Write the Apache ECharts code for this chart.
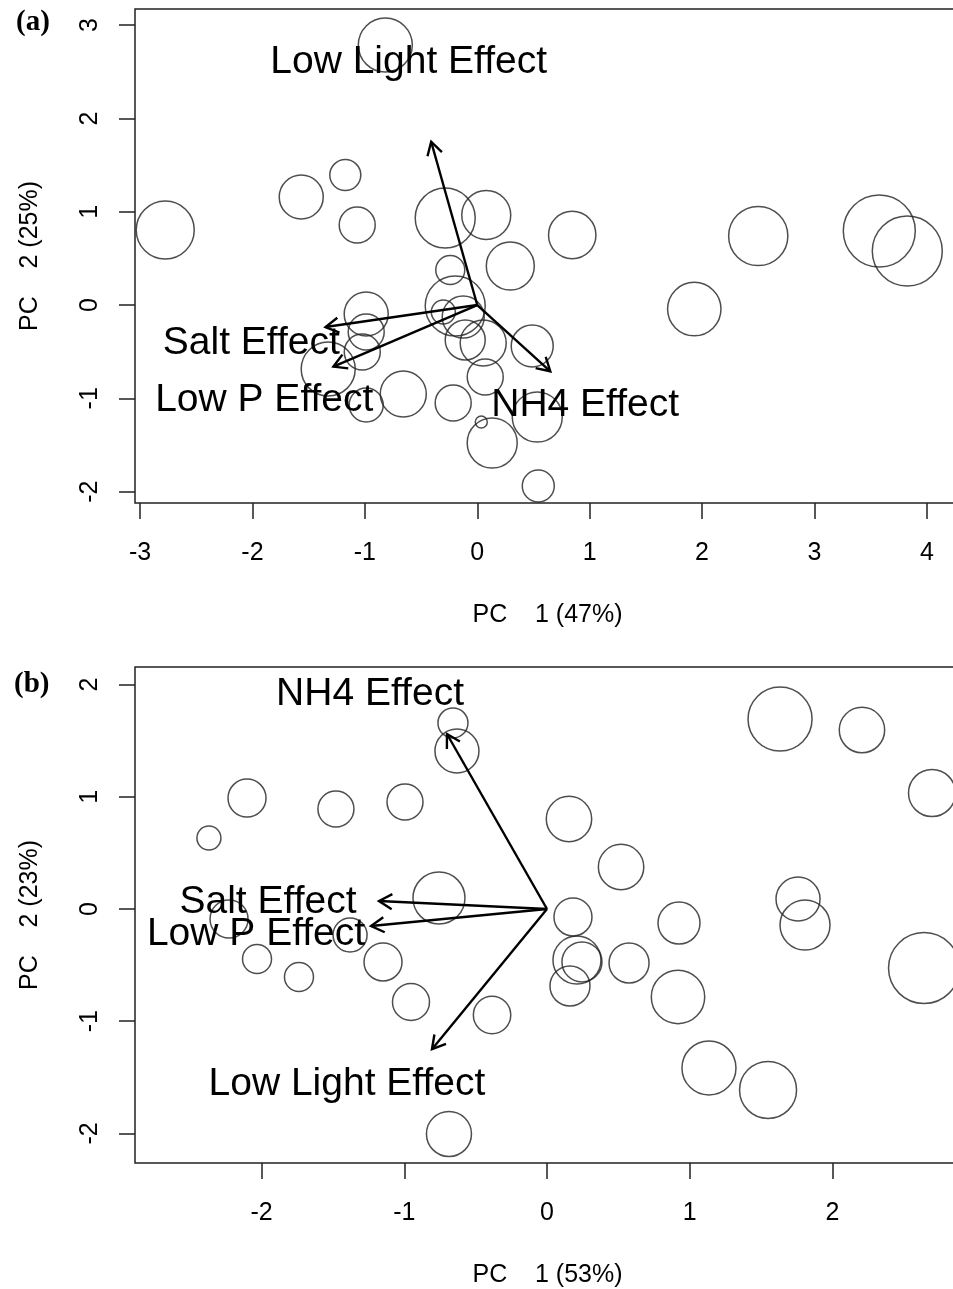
<!DOCTYPE html>
<html>
<head>
<meta charset="utf-8">
<script src="https://cdn.jsdelivr.net/npm/echarts@6/dist/echarts.min.js"></script>
<style>
  html, body { margin: 0; padding: 0; background: #fff; }
  #main { width: 953px; height: 1289px; }
</style>
</head>
<body>
<div id="main"></div>
<script>
// panel (a): site scores, PC1 / PC2, bubble = relative size
const pc1A = [-0.818, -2.776, -1.566, -1.174, -1.068, -0.285, 0.080, 0.845, 0.294, 2.500, 3.577, 3.826, 1.931,
  -0.240, -0.196, -0.302, -0.125, -0.988, -0.988, -1.023, -1.326, -0.988, -0.658, -0.214, -0.107, 0.053,
  0.071, 0.489, 0.036, 0.133, 0.534, 0.543]
const pc2A = [2.787, 0.804, 1.158, 1.393, 0.857, 0.932, 0.965, 0.750, 0.418, 0.740, 0.793, 0.579, -0.043,
  0.375, -0.011, -0.075, -0.129, -0.096, -0.289, -0.504, -0.686, -1.072, -0.954, -1.050, -0.375, -0.407,
  -0.772, -0.439, -1.254, -1.479, -1.200, -1.940]
const bubbleA = [2.7, 2.9, 2.2, 1.55, 1.8, 3.0, 2.45, 2.37, 2.4, 2.96, 3.6, 3.5, 2.67,
  1.45, 3.0, 1.2, 2.1, 2.2, 1.8, 1.8, 2.7, 1.7, 2.3, 1.8, 2.0, 2.3,
  1.8, 2.1, 0.6, 2.5, 2.5, 1.6]

// panel (b)
const pc1B = [-0.659, -0.631, -2.102, -2.369, -1.479, -0.995, -0.757, -2.228, -1.380, -2.032, -1.738, -1.149,
  -0.953, -0.385, 0.182, 0.210, 0.245, 0.161, 0.575, 0.519, 0.154, 1.633, 2.207, 2.698, 0.925, 1.759,
  1.808, 2.642, 0.918, 1.135, 1.549, -0.687]
const pc2B = [1.658, 1.408, 0.989, 0.633, 0.891, 0.954, 0.098, -0.089, -0.232, -0.446, -0.606, -0.472,
  -0.829, -0.945, -0.071, -0.455, -0.472, -0.686, -0.481, 0.374, 0.802, 1.693, 1.595, 1.034, -0.125, 0.089,
  -0.143, -0.526, -0.784, -1.417, -1.613, -2.005]
const bubbleB = [1.5, 2.2, 1.9, 1.2, 1.8, 1.8, 2.6, 1.9, 1.7, 1.45, 1.45, 1.9,
  1.85, 1.87, 1.9, 2.4, 2.0, 2.0, 2.0, 2.27, 2.27, 3.2, 2.27, 2.35, 2.1, 2.2,
  2.5, 3.55, 2.67, 2.7, 2.85, 2.25]

// loading arrows and their labels
const effects = ['Low Light Effect', 'Salt Effect', 'Low P Effect', 'NH4 Effect']
const arrowXA = [-0.41, -1.35, -1.28, 0.65]
const arrowYA = [1.75, -0.236, -0.66, -0.71]
const labelXA = [-0.61, -2.01, -1.895, 0.96]
const labelYA = [2.6, -0.41, -1.02, -1.07]

const arrowXB = [-0.806, -1.177, -1.233, -0.701]
const arrowYB = [-1.25, 0.071, -0.152, 1.56]
const labelXB = [-1.402, -1.955, -2.039, -1.24]
const labelYB = [-1.562, 0.06, -0.225, 1.914]

const xTicksA = [-3, -2, -1, 0, 1, 2, 3, 4]
const yTicksA = [-2, -1, 0, 1, 2, 3]
const xTicksB = [-2, -1, 0, 1, 2]
const yTicksB = [-2, -1, 0, 1, 2]

const ink = '#222'
const sans = '"Liberation Sans", Arial, sans-serif'

function valueAxis(gridIndex, min, max, ticks, isY, name) {
  return {
    type: 'value',
    gridIndex: gridIndex,
    min: min,
    max: max,
    axisLine: { show: false, onZero: false },
    splitLine: { show: false },
    axisTick: { show: true, length: 16, customValues: ticks, lineStyle: { color: ink, width: 1.5 } },
    axisLabel: {
      customValues: ticks,
      fontSize: 25,
      color: '#000',
      fontFamily: sans,
      margin: isY ? 32 : 38,
      rotate: isY ? 90 : 0
    },
    name: name,
    nameLocation: 'middle',
    nameGap: isY ? 92 : 100,
    nameTextStyle: { fontSize: 25, color: '#000', fontFamily: sans }
  }
}

function bubbles(xs, ys, sizes, idx) {
  return {
    type: 'scatter',
    xAxisIndex: idx,
    yAxisIndex: idx,
    data: xs.map((x, i) => [x, ys[i], sizes[i]]),
    symbol: 'circle',
    symbolSize: (v) => v[2] * 20,
    itemStyle: { color: 'rgba(0,0,0,0)', borderColor: ink, borderWidth: 1.5 },
    silent: true,
    z: 2
  }
}

function arrows(xs, ys, idx) {
  return {
    type: 'custom',
    xAxisIndex: idx,
    yAxisIndex: idx,
    data: xs.map((x, i) => [x, ys[i]]),
    renderItem: (params, api) => {
      const p0 = api.coord([0, 0])
      const p1 = api.coord([api.value(0), api.value(1)])
      const ang = Math.atan2(p1[1] - p0[1], p1[0] - p0[0])
      const len = 15
      const a = Math.PI / 6
      const h1 = [p1[0] - len * Math.cos(ang - a), p1[1] - len * Math.sin(ang - a)]
      const h2 = [p1[0] - len * Math.cos(ang + a), p1[1] - len * Math.sin(ang + a)]
      const st = { stroke: '#000', lineWidth: 2.4, fill: null }
      return {
        type: 'group',
        children: [
          { type: 'line', shape: { x1: p0[0], y1: p0[1], x2: p1[0], y2: p1[1] }, style: st },
          { type: 'polyline', shape: { points: [h1, p1, h2] }, style: st }
        ]
      }
    },
    silent: true,
    z: 3
  }
}

function labels(xs, ys, idx) {
  return {
    type: 'custom',
    xAxisIndex: idx,
    yAxisIndex: idx,
    data: xs.map((x, i) => [x, ys[i], effects[i]]),
    renderItem: (params, api) => {
      const p = api.coord([api.value(0), api.value(1)])
      return {
        type: 'text',
        style: {
          text: effects[params.dataIndex],
          x: p[0],
          y: p[1],
          fill: '#000',
          fontSize: 39,
          fontFamily: sans,
          align: 'center',
          verticalAlign: 'middle'
        }
      }
    },
    silent: true,
    z: 4
  }
}

const option = {
  animation: false,
  backgroundColor: '#fff',
  title: [
    { text: '(a)', left: 11, top: 3, textStyle: { fontFamily: '"Liberation Serif", serif', fontWeight: 'bold', fontSize: 29, color: '#000' } },
    { text: '(b)', left: 9, top: 665, textStyle: { fontFamily: '"Liberation Serif", serif', fontWeight: 'bold', fontSize: 29, color: '#000' } }
  ],
  grid: [
    { left: 135, top: 9, width: 825, height: 494, outerBoundsMode: 'none', show: true, borderColor: ink, borderWidth: 1.5, backgroundColor: 'rgba(0,0,0,0)' },
    { left: 135, top: 667, width: 825, height: 496, outerBoundsMode: 'none', show: true, borderColor: ink, borderWidth: 1.5, backgroundColor: 'rgba(0,0,0,0)' }
  ],
  xAxis: [
    valueAxis(0, -3.045, 4.295, xTicksA, false, 'PC    1 (47%)'),
    valueAxis(1, -2.887, 2.894, xTicksB, false, 'PC    1 (53%)')
  ],
  yAxis: [
    valueAxis(0, -2.122, 3.173, yTicksA, true, 'PC    2 (25%)'),
    valueAxis(1, -2.264, 2.157, yTicksB, true, 'PC    2 (23%)')
  ],
  series: [
    bubbles(pc1A, pc2A, bubbleA, 0),
    arrows(arrowXA, arrowYA, 0),
    labels(labelXA, labelYA, 0),
    bubbles(pc1B, pc2B, bubbleB, 1),
    arrows(arrowXB, arrowYB, 1),
    labels(labelXB, labelYB, 1)
  ]
}

const chart = echarts.init(document.getElementById('main'))
chart.setOption(option)
</script>
</body>
</html>
